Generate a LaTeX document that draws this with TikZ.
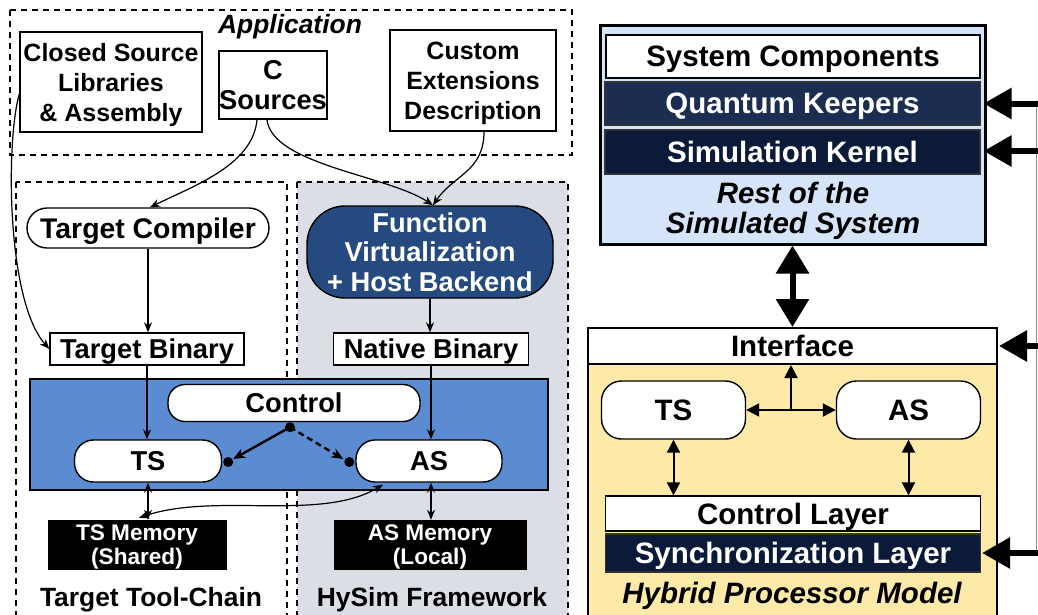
\documentclass[tikz,border=0pt]{standalone}
\usepackage{fontspec}
\setmainfont{Liberation Sans}
\usetikzlibrary{arrows.meta,calc}
\definecolor{fvblue}{HTML}{244A80}
\definecolor{ctrlblue}{HTML}{5B8BD1}
\definecolor{qkblue}{HTML}{1C2D52}
\definecolor{skblue}{HTML}{0B1A38}
\definecolor{restblue}{HTML}{D6E4FA}
\definecolor{hybyellow}{HTML}{FDEAA9}
\definecolor{hsgray}{HTML}{DCDEE5}
\begin{document}
\begin{tikzpicture}[x=1pt,y=-1pt,
  txt/.style={inner sep=0pt, align=center, text depth=0pt, font=\bfseries\fontsize{27.3}{29.5}\selectfont},
  wbox/.style={txt, draw, line width=1.4pt, fill=white},
  dbox/.style={txt, draw=black!80, line width=1.2pt, text=white},
  fsmall/.style={font=\bfseries\fontsize{25}{30}\selectfont},
  fmem/.style={font=\bfseries\fontsize{22.6}{24}\selectfont},
  flabel/.style={font=\bfseries\fontsize{26.4}{30}\selectfont},
  fright/.style={font=\bfseries\fontsize{29.5}{30}\selectfont},
  fital/.style={font=\bfseries\itshape\fontsize{29.5}{30}\selectfont},
  dashbox/.style={draw, dash pattern=on 6pt off 5pt, line width=1.2pt},
  arr/.style={-{Stealth[length=10pt,width=8pt]}, line width=1.2pt},
  darr/.style={{Stealth[length=10pt,width=8pt]}-{Stealth[length=10pt,width=8pt]}, line width=1.2pt},
  carr/.style={-{Stealth[length=12pt,width=10pt]}, line width=2.4pt},
  rarr/.style={{Triangle[length=13pt,width=13pt]}-{Triangle[length=13pt,width=13pt]}, line width=2pt},
  rarrone/.style={-{Triangle[length=13pt,width=13pt]}, line width=2pt},
  bigarr/.style={-{Triangle[length=28pt,width=30pt]}, line width=6pt},
  bigdarr/.style={{Triangle[length=28pt,width=32pt]}-{Triangle[length=28pt,width=32pt]}, line width=6pt},
  dot/.style={circle, fill=black, inner sep=0pt, minimum size=10pt}
]
\clip (0,0) rectangle (1038,614);
\fill[white] (0,0) rectangle (1038,614);

% ---------- left: groups ----------
\draw[dashbox] (10,10) rectangle (572,155);
\draw[dashbox] (16,182) rectangle (287,650);
\draw[dashbox, fill=hsgray] (297,182) rectangle (568,650);

\node[txt, font=\bfseries\itshape\fontsize{26.4}{30}\selectfont] (app) at (290,24) {Application};

\node[wbox, fsmall, minimum width=182, minimum height=100] (cls) at (111,82) {Closed Source\\Libraries\\\& Assembly};
\node[wbox, minimum width=98, minimum height=68] (csrc) at (273,85) {C\\Sources};
\node[wbox, fsmall, minimum width=166, minimum height=101] (cust) at (473,80.5) {Custom\\Extensions\\Description};

\node[wbox, rounded corners=20, minimum width=242, minimum height=40, font=\bfseries\fontsize{28.4}{30}\selectfont] (tc) at (148,228) {Target Compiler};
\node[txt, draw=black, line width=1.4pt, fill=fvblue, text=white, rounded corners=38, minimum width=246, minimum height=92] (fv) at (430,252) {Function\\Virtualization\\+ Host Backend};

\node[wbox, minimum width=194, minimum height=32] (tb) at (147,349) {Target Binary};
\node[wbox, minimum width=195, minimum height=32] (nb) at (431,349) {Native Binary};

\node[draw, line width=1.4pt, fill=ctrlblue, minimum width=518, minimum height=111, inner sep=0pt] (exec) at (289,434.5) {};
\node[wbox, rounded corners=17, minimum width=252, minimum height=37] (ctrl) at (294,403) {Control};
\node[wbox, rounded corners=19, minimum width=147, minimum height=42] (ts) at (148,461) {TS};
\node[wbox, rounded corners=19, minimum width=146, minimum height=42] (as) at (429,461) {AS};

\node[txt, fmem, fill=black, text=white, minimum width=179, minimum height=50] (tsm) at (137,545) {TS Memory\\(Shared)};
\node[txt, fmem, fill=black, text=white, minimum width=193, minimum height=50] (asm) at (430,545) {AS Memory\\(Local)};

\node[txt, flabel] (ttc) at (151,597) {Target Tool-Chain};
\node[txt, flabel] (hsf) at (432,597) {HySim Framework};

% ---------- left: connectors ----------
\draw[arr] ($(csrc.south)+(-16,0)$) .. controls +(-4,45) and +(45,-22) .. ($(tc.north)+(2,0)$);
\draw[arr] ($(csrc.south)+(-6,0)$) .. controls +(5,45) and +(-45,-30) .. ($(fv.north)+(3,0)$);
\draw[arr] ($(cust.south)+(11,0)$) .. controls +(0,40) and +(20,-30) .. ($(fv.north)+(3,0)$);
\draw[arr] ($(cls.west)+(0,12)$) .. controls (6,140) and (6,300) .. (tb.west);
\draw[arr] (tc.south) -- (tc.south |- tb.north);
\draw[arr] (fv.south) -- (fv.south |- nb.north);
\draw[arr] (tb.south) -- (tb.south |- ts.north);
\draw[arr] (nb.south) -- (nb.south |- as.north);

\node[dot] (cdot) at ($(ctrl.south)+(-4,5)$) {};
\node[dot] (tsdot) at ($(ts.east)+(6,1)$) {};
\node[dot] (asdot) at ($(as.west)+(-6,1)$) {};
\draw[carr] (cdot.center) -- ($(tsdot.center)+(5,-3)$);
\draw[carr, dash pattern=on 6pt off 4pt] (cdot.center) -- ($(asdot.center)+(-6,-3)$);

\coordinate (asb) at ($(as.south)+(2,0)$);
\coordinate (asc) at ($(as.south)+(-46,2)$);
\coordinate (tsmt) at ($(tsm.north)+(2,-2)$);
\draw[darr] (ts.south) -- (ts.south |- tsm.north);
\draw[darr] (asb) -- (asb |- asm.north);
\draw[darr] (tsmt) .. controls (215,492) and (320,522) .. (asc);

% ---------- right: system ----------
\node[draw, line width=3pt, fill=restblue, minimum width=385, minimum height=219, inner sep=0pt] (rest) at (792.5,134.5) {};
\node[wbox, fright, minimum width=374, minimum height=43] (sc) at (793,56.5) {System Components};
\node[dbox, fright, fill=qkblue, minimum width=375, minimum height=43] (qk) at (792.5,103.5) {Quantum Keepers};
\node[dbox, fright, fill=skblue, minimum width=375, minimum height=44] (sk) at (792.5,152) {Simulation Kernel};
\node[txt, fital] (rst) at (793,208) {Rest of the\\Simulated System};

\node[draw, line width=2pt, fill=hybyellow, minimum width=409, minimum height=300, inner sep=0pt] (hpm) at (792.5,514) {};
\node[wbox, fright, line width=2pt, minimum width=409, minimum height=36] (iface) at (792.5,346) {Interface};
\node[wbox, fright, rounded corners=20, minimum width=144, minimum height=58] (ts2) at (673.5,410) {TS};
\node[wbox, fright, rounded corners=20, minimum width=144, minimum height=58] (as2) at (908.5,410) {AS};
\node[wbox, fright, minimum width=375, minimum height=35] (ctl) at (793,513.5) {Control Layer};
\node[dbox, fright, fill=skblue, minimum width=375, minimum height=38] (sync) at (793,553) {Synchronization Layer};
\node[txt, fital] (hpml) at (792,593) {Hybrid Processor Model};

% ---------- right: connectors ----------
\draw[bigdarr] (rest.south) -- (iface.north);
\draw[rarr] (ts2.east) -- (as2.west);
\coordinate (mid) at ($(ts2.east)!0.5!(as2.west)$);
\draw[rarrone] (mid) -- (mid |- iface.south);
\draw[rarr] (ts2.south) -- (ts2.south |- ctl.north);
\draw[rarr] (as2.south) -- (as2.south |- ctl.north);

\coordinate (rtop) at (1036.5,100);
\coordinate (rbot) at (1036.5,556);
\draw[black!45, line width=0.8pt] (rtop) -- (rbot);
\coordinate (in1) at (1045,103.5);
\coordinate (in2) at (1045,151);
\coordinate (in3) at (1045,346);
\coordinate (in4) at (1045,553);
\draw[bigarr] (in1) -- ($(qk.east)+(3,0)$);
\draw[bigarr] (in2) -- ($(sk.east)+(3,-1)$);
\draw[bigarr] (in3) -- ($(iface.east)+(1,0)$);
\draw[bigarr] (in4) -- ($(sync.east)+(1,0)$);
\end{tikzpicture}
\end{document}
